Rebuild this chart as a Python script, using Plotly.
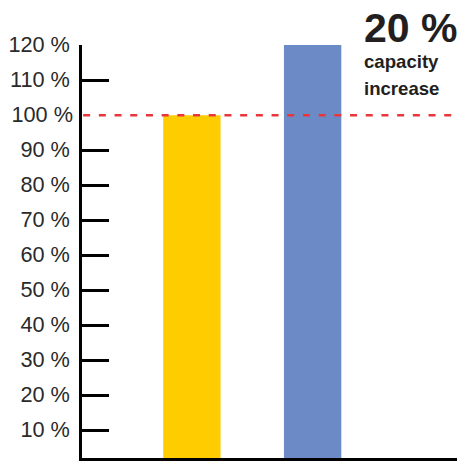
import plotly.graph_objects as go

categories = ["Before", "After"]
values = [100, 120]
bar_colors = ["#FFCC00", "#6C8BC6"]
tick_values = [10, 20, 30, 40, 50, 60, 70, 80, 90, 110, 120]
tick_labels = ["10 %", "20 %", "30 %", "40 %", "50 %", "60 %", "70 %", "80 %", "90 %", "110 %", "120 %"]
reference_value = 100
reference_label = "100 %"
headline = "20 %"
subline_1 = "capacity"
subline_2 = "increase"

fig = go.Figure()
fig.add_trace(go.Bar(x=categories, y=values, marker=dict(color=bar_colors, line=dict(width=0)),
                     width=0.475, showlegend=False, hoverinfo="skip"))

tick_font = dict(family="Liberation Sans, Arial, sans-serif", size=21.7, color="#2a2a2a")
ann_font = "Liberation Sans, Arial, sans-serif"
yr = [2.15, 120.02]
fig.update_layout(
    width=457, height=453,
    margin=dict(l=70, r=0, t=37, b=3),
    paper_bgcolor="white", plot_bgcolor="white",
    xaxis=dict(range=[-0.910, 2.262], showticklabels=False, ticks="", showgrid=False,
               zeroline=False, showline=True, linecolor="black", linewidth=2.5),
    yaxis=dict(range=yr, tickvals=tick_values, ticktext=tick_labels, ticks="inside",
               ticklen=27, tickwidth=2.5, tickcolor="black", showgrid=False, zeroline=False,
               showline=True, linecolor="black", linewidth=2.5, tickfont=tick_font,
               ticklabelstandoff=5, ticklabelshift=-1),
    yaxis2=dict(range=yr, overlaying="y", side="left", tickvals=[reference_value],
                ticktext=[reference_label], ticks="inside", ticklen=27, tickcolor="rgba(0,0,0,0)",
                showgrid=False, zeroline=False, showline=False, tickfont=tick_font,
                ticklabelstandoff=8, ticklabelshift=-1),
    shapes=[dict(type="line", xref="paper", x0=0.003, x1=1, yref="y", y0=reference_value,
                 y1=reference_value, line=dict(color="#E8363A", width=2.5, dash="7px,8.7px"),
                 layer="above")],
    annotations=[
        dict(text=headline, xref="paper", yref="paper", x=0.7339, y=1.0404, xanchor="left",
             yanchor="middle", showarrow=False, borderpad=0,
             font=dict(family=ann_font, size=41, color="#231F20", weight="bold")),
        dict(text=subline_1, xref="paper", yref="paper", x=0.7339, y=0.960, xanchor="left",
             yanchor="middle", showarrow=False, borderpad=0,
             font=dict(family=ann_font, size=18.6, color="#231F20", weight="bold")),
        dict(text=subline_2, xref="paper", yref="paper", x=0.7339, y=0.8947, xanchor="left",
             yanchor="middle", showarrow=False, borderpad=0,
             font=dict(family=ann_font, size=18.6, color="#231F20", weight="bold")),
    ],
)
# invisible trace to activate yaxis2 (label for the reference line)
fig.add_trace(go.Scatter(x=[categories[0]], y=[reference_value], yaxis="y2", mode="markers",
                         marker=dict(opacity=0), showlegend=False, hoverinfo="skip"))
fig.write_html("out.html")
